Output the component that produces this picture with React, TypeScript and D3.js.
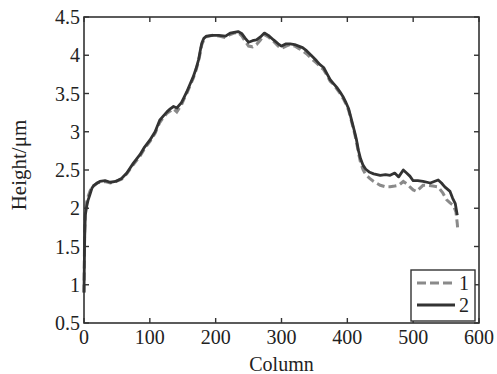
import React from "react";
import * as d3 from "d3";

const columns1 = [0, 1, 2, 4, 6, 9, 12, 16, 20, 25, 32, 40, 48, 57, 65, 75, 85, 92, 100, 108, 115, 120, 126, 131, 136, 141, 148, 152, 156, 161, 166, 170, 174, 177, 179, 182, 186, 195, 205, 215, 222, 228, 234, 240, 245, 250, 256, 262, 268, 274, 280, 288, 295, 300, 307, 313, 320, 326, 332, 338, 345, 353, 358, 364, 369, 374, 379, 384, 389, 394, 398, 402, 405, 408, 411, 414, 417, 420, 424, 428, 434, 440, 450, 458, 465, 472, 478, 485, 490, 495, 500, 505, 510, 515, 521, 530, 538, 545, 551, 556, 561, 565, 567, 568];
const height1 = [0.9, 1.7, 1.95, 2.08, 2.15, 2.22, 2.28, 2.3, 2.33, 2.34, 2.35, 2.33, 2.35, 2.38, 2.45, 2.57, 2.68, 2.78, 2.87, 2.98, 3.12, 3.18, 3.24, 3.27, 3.3, 3.26, 3.35, 3.43, 3.5, 3.6, 3.7, 3.8, 3.92, 4.05, 4.14, 4.2, 4.24, 4.26, 4.25, 4.23, 4.27, 4.29, 4.3, 4.25, 4.18, 4.12, 4.11, 4.14, 4.2, 4.27, 4.24, 4.18, 4.12, 4.09, 4.12, 4.14, 4.12, 4.09, 4.06, 4.02, 3.96, 3.9, 3.86, 3.81, 3.74, 3.66, 3.62, 3.56, 3.5, 3.43, 3.36, 3.28, 3.18, 3.08, 2.98, 2.86, 2.72, 2.6, 2.5, 2.44, 2.39, 2.35, 2.3, 2.28, 2.28, 2.29, 2.3, 2.35, 2.32, 2.28, 2.24, 2.22, 2.26, 2.3, 2.3, 2.29, 2.28, 2.2, 2.11, 2.07, 2.04, 1.95, 1.8, 1.7];

const columns2 = [0, 1, 2, 4, 6, 9, 12, 15, 20, 24, 32, 40, 48, 57, 65, 75, 85, 92, 100, 108, 115, 120, 126, 131, 136, 141, 148, 152, 156, 161, 166, 170, 174, 177, 179, 182, 186, 195, 205, 215, 222, 228, 234, 240, 245, 250, 256, 262, 268, 274, 280, 288, 295, 300, 307, 313, 320, 326, 332, 338, 345, 353, 358, 364, 369, 374, 379, 384, 389, 394, 398, 402, 405, 408, 411, 414, 417, 420, 424, 428, 434, 440, 450, 458, 465, 472, 478, 485, 490, 495, 500, 507, 515, 526, 532, 538, 543, 548, 552, 556, 560, 564, 567];
const height2 = [0.9, 1.6, 1.91, 2.02, 2.1, 2.18, 2.26, 2.3, 2.33, 2.35, 2.36, 2.34, 2.35, 2.39, 2.46, 2.59, 2.7, 2.8, 2.89, 3.0, 3.15, 3.2, 3.26, 3.3, 3.33, 3.31, 3.38, 3.45, 3.52, 3.62, 3.72, 3.82, 3.94, 4.08, 4.16, 4.22, 4.25, 4.26, 4.26, 4.25, 4.29, 4.3, 4.31, 4.28, 4.22, 4.17, 4.19, 4.2, 4.24, 4.29, 4.26, 4.2, 4.15, 4.12, 4.15, 4.15, 4.14, 4.12, 4.1, 4.06, 4.0, 3.93, 3.88, 3.84, 3.76, 3.68, 3.63, 3.58, 3.52, 3.45, 3.38, 3.3, 3.2, 3.1, 3.0, 2.89, 2.75, 2.65, 2.56, 2.51, 2.47, 2.45, 2.43, 2.44, 2.43, 2.46, 2.41, 2.5, 2.46, 2.42, 2.36, 2.36, 2.35, 2.33, 2.35, 2.37, 2.33, 2.28, 2.25, 2.22, 2.13, 2.06, 1.91];

const xTicks = [0, 100, 200, 300, 400, 500, 600];
const yTicks = [0.5, 1, 1.5, 2, 2.5, 3, 3.5, 4, 4.5];
const seriesNames = ["1", "2"];

const W = 497;
const H = 374;
const L = 84, R = 479, T = 17, B = 323;
const FONT = "'Liberation Serif', 'Times New Roman', serif";

export default function App() {
  const x = d3.scaleLinear().domain([0, 600]).range([L, R]);
  const y = d3.scaleLinear().domain([0.5, 4.5]).range([B, T]);
  const line = d3
    .line<[number, number]>()
    .x((d) => x(d[0]))
    .y((d) => y(d[1]));
  const d1 = line(columns1.map((c, i) => [c, height1[i]] as [number, number])) || "";
  const d2 = line(columns2.map((c, i) => [c, height2[i]] as [number, number])) || "";
  const axisColor = "#333";
  const tl = 5;

  return (
    <div style={{ position: "absolute", left: 0, top: 0 }}>
      <svg width={W} height={H} style={{ display: "block", background: "#fff" }}>
        <rect x={0} y={0} width={W} height={H} fill="#fff" />
        <path d={d1} fill="none" stroke="#8a8a8a" strokeWidth={3} strokeDasharray="8,4" />
        <path d={d2} fill="none" stroke="#333" strokeWidth={2.8} strokeLinejoin="round" />
        <rect x={L} y={T} width={R - L} height={B - T} fill="none" stroke={axisColor} strokeWidth={1.6} />
        {xTicks.map((t) => (
          <g key={"x" + t}>
            <line x1={x(t)} x2={x(t)} y1={B} y2={B - tl} stroke={axisColor} strokeWidth={1.4} />
            <line x1={x(t)} x2={x(t)} y1={T} y2={T + tl} stroke={axisColor} strokeWidth={1.4} />
            <text x={x(t)} y={344} textAnchor="middle" fontFamily={FONT} fontSize={20} fill="#222">
              {t}
            </text>
          </g>
        ))}
        {yTicks.map((t) => (
          <g key={"y" + t}>
            <line x1={L} x2={L + tl} y1={y(t)} y2={y(t)} stroke={axisColor} strokeWidth={1.4} />
            <line x1={R} x2={R - tl} y1={y(t)} y2={y(t)} stroke={axisColor} strokeWidth={1.4} />
            <text x={80} y={y(t) + 7} textAnchor="end" fontFamily={FONT} fontSize={20} fill="#222">
              {t}
            </text>
          </g>
        ))}
        <text x={(L + R) / 2} y={371} textAnchor="middle" fontFamily={FONT} fontSize={20} fill="#222">
          Column
        </text>
        <text
          transform={`translate(26,165) rotate(-90)`}
          textAnchor="middle"
          fontFamily={FONT}
          fontSize={21}
          fill="#222"
        >
          Height/μm
        </text>
        <rect x={411} y={270} width={64} height={51} fill="#fff" stroke={axisColor} strokeWidth={1.4} />
        <line x1={417} x2={455} y1={283} y2={283} stroke="#8a8a8a" strokeWidth={3} strokeDasharray="9,4" />
        <line x1={417} x2={455} y1={305} y2={305} stroke="#333" strokeWidth={2.8} />
        <text x={459} y={290} fontFamily={FONT} fontSize={20} fill="#222">
          {seriesNames[0]}
        </text>
        <text x={459} y={312} fontFamily={FONT} fontSize={20} fill="#222">
          {seriesNames[1]}
        </text>
      </svg>
    </div>
  );
}
